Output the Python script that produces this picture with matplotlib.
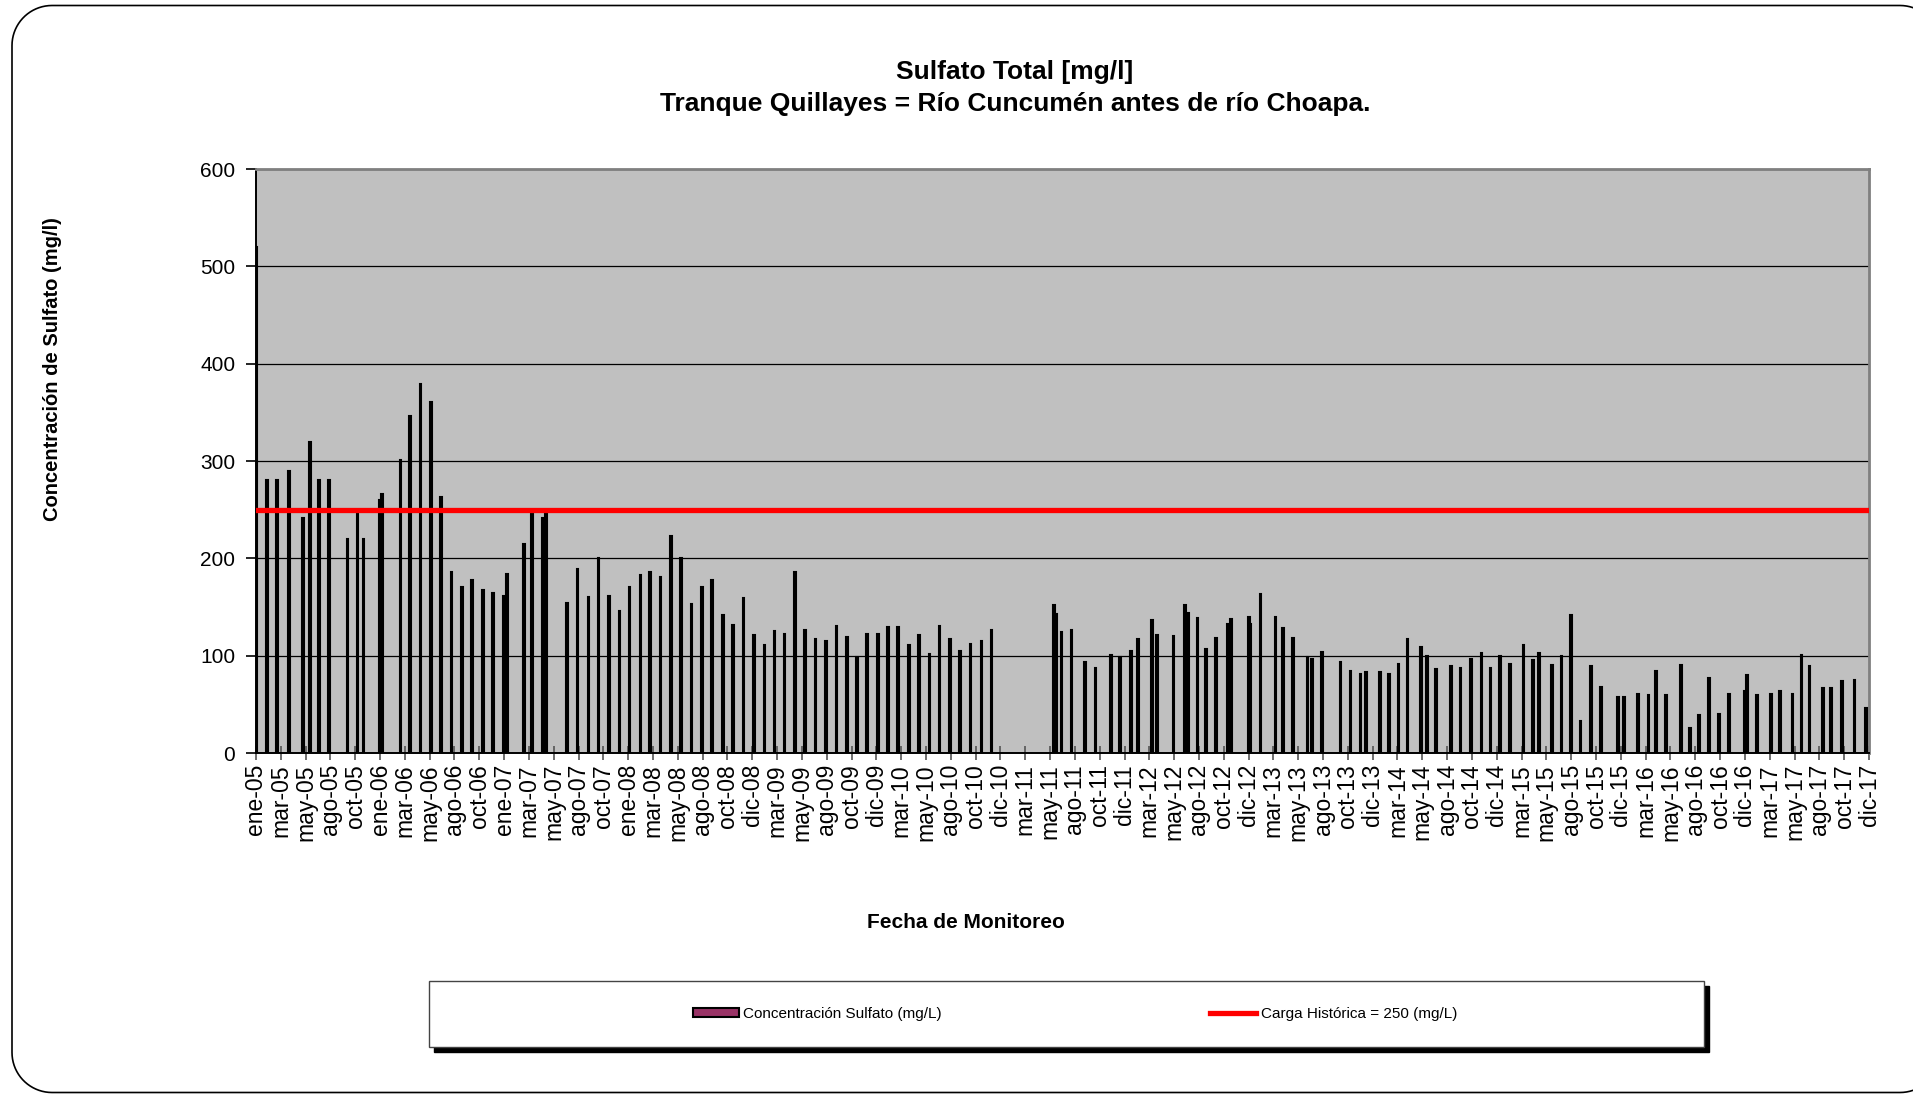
import matplotlib
matplotlib.use("Agg")
import matplotlib.pyplot as plt
import matplotlib.dates as mdates
from matplotlib.patches import Patch, Rectangle
from matplotlib.lines import Line2D
import numpy as np
import pandas as pd

plt.rcParams['font.family'] = ['Liberation Sans', 'DejaVu Sans']

# fechas de monitoreo y concentracion de sulfato (mg/l)
fechas = [
    '2005-01-03', '2005-02-03', '2005-03-03', '2005-04-09', '2005-05-20', '2005-06-09',
    '2005-07-06', '2005-08-03', '2005-09-27', '2005-10-27', '2005-11-13', '2005-12-30',
    '2006-01-07', '2006-03-02', '2006-03-31', '2006-04-30', '2006-05-31', '2006-06-30',
    '2006-07-30', '2006-08-30', '2006-09-29', '2006-10-30', '2006-11-30', '2006-12-30',
    '2007-01-10', '2007-02-28', '2007-03-24', '2007-04-26', '2007-05-04', '2007-07-06',
    '2007-08-05', '2007-09-06', '2007-10-06', '2007-11-06', '2007-12-06', '2008-01-05',
    '2008-02-06', '2008-03-06', '2008-04-05', '2008-05-06', '2008-06-05', '2008-07-05',
    '2008-08-05', '2008-09-04', '2008-10-06', '2008-11-05', '2008-12-05', '2009-01-06',
    '2009-02-05', '2009-03-06', '2009-04-05', '2009-05-05', '2009-06-05', '2009-07-05',
    '2009-08-05', '2009-09-05', '2009-10-05', '2009-11-04', '2009-12-04', '2010-01-05',
    '2010-02-03', '2010-03-05', '2010-04-05', '2010-05-05', '2010-06-05', '2010-07-05',
    '2010-08-04', '2010-09-04', '2010-10-04', '2010-11-05', '2010-12-05',
    '2011-06-06', '2011-06-14', '2011-06-29', '2011-07-28', '2011-09-06', '2011-10-07',
    '2011-11-22', '2011-12-18', '2012-01-19', '2012-02-08', '2012-03-21', '2012-04-04',
    '2012-05-23', '2012-06-26', '2012-07-05', '2012-08-02', '2012-08-26', '2012-09-26',
    '2012-10-29', '2012-11-08', '2012-12-31', '2013-01-05', '2013-02-03', '2013-03-19',
    '2013-04-10', '2013-05-09', '2013-06-21', '2013-07-05', '2013-08-03', '2013-09-26',
    '2013-10-26', '2013-11-24', '2013-12-11', '2014-01-21', '2014-02-15', '2014-03-16',
    '2014-04-11', '2014-05-22', '2014-06-08', '2014-07-05', '2014-08-18', '2014-09-14',
    '2014-10-16', '2014-11-15', '2014-12-12', '2015-01-09', '2015-02-06', '2015-03-19',
    '2015-04-16', '2015-05-03', '2015-06-11', '2015-07-08', '2015-08-05', '2015-09-02',
    '2015-10-03', '2015-11-01', '2015-12-22', '2016-01-09', '2016-02-18', '2016-03-20',
    '2016-04-12', '2016-05-11', '2016-06-23', '2016-07-20', '2016-08-16', '2016-09-15',
    '2016-10-14', '2016-11-13', '2016-12-29', '2017-01-05', '2017-02-03', '2017-03-15',
    '2017-04-11', '2017-05-18', '2017-06-13', '2017-07-07', '2017-08-15', '2017-09-08',
    '2017-10-11', '2017-11-16', '2017-12-20',
]
sulfato = [
    520, 280, 280, 290, 241, 320,
    280, 280, 220, 247, 220, 260,
    266, 301, 346, 379, 361, 263,
    186, 171, 178, 167, 164, 161,
    184, 215, 246, 241, 247, 154,
    189, 160, 200, 161, 146, 171,
    183, 186, 181, 223, 200, 153,
    171, 178, 142, 131, 159, 121,
    111, 125, 122, 186, 126, 117,
    115, 130, 119, 99, 122, 122,
    129, 129, 111, 121, 102, 130,
    117, 105, 112, 115, 126,
    152, 143, 124, 126, 94, 87,
    101, 99, 105, 117, 137, 121,
    120, 152, 144, 139, 107, 118,
    133, 138, 140, 133, 163, 140,
    128, 118, 99, 97, 104, 94,
    84, 81, 83, 83, 81, 91,
    117, 109, 100, 86, 89, 87,
    97, 103, 87, 100, 91, 111,
    96, 103, 90, 100, 142, 33,
    89, 68, 58, 58, 61, 60,
    84, 60, 90, 26, 39, 77,
    40, 61, 64, 80, 60, 61,
    64, 61, 101, 89, 67, 67,
    74, 75, 46,
]
carga_historica = 250

meses = ['ene', 'feb', 'mar', 'abr', 'may', 'jun',
         'jul', 'ago', 'sep', 'oct', 'nov', 'dic']

# eje de fechas: marca cada 73 dias desde ene-05 hasta dic-17
inicio = pd.Timestamp('2005-01-01')
marcas = [inicio + pd.Timedelta(days=73 * k) for k in range(66)]
etiquetas = [f"{meses[m.month - 1]}-{m.strftime('%y')}" for m in marcas]

x = mdates.date2num(pd.to_datetime(fechas))

W, H = 1913, 1094
fig = plt.figure(figsize=(W / 100, H / 100), dpi=100)
ax = fig.add_axes([0.1338, 0.3117, 0.8432, 0.5338])
ax.set_facecolor('#C0C0C0')

# barras angostas: el borde negro domina, como en el original
ax.bar(x, sulfato, width=5, color='#993366', edgecolor='black',
       linewidth=1.5, zorder=3)
ax.axhline(carga_historica, color='#FF0000', linewidth=3.8, zorder=4)

ax.set_xlim(mdates.date2num(marcas[0]), mdates.date2num(marcas[-1]))
ax.set_ylim(0, 600)
ax.set_yticks(np.arange(0, 601, 100))
ax.grid(axis='y', color='black', linewidth=0.9, zorder=1)
ax.set_axisbelow(True)

ax.set_xticks(mdates.date2num(marcas))
ax.set_xticklabels(etiquetas, rotation=90, fontsize=16.5)
ax.tick_params(axis='x', direction='inout', length=10, width=1.2,
               color='#555555', pad=3)
ax.tick_params(axis='y', direction='out', length=7, width=1.2,
               labelsize=15, pad=8)

for lado in ['top', 'right']:
    ax.spines[lado].set_color('#808080')
    ax.spines[lado].set_linewidth(2)
for lado in ['left', 'bottom']:
    ax.spines[lado].set_color('black')
    ax.spines[lado].set_linewidth(1.4)

# titulos
fig.text(0.5306, 0.934, 'Sulfato Total [mg/l]', ha='center', va='center',
         fontsize=19, fontweight='bold')
fig.text(0.5306, 0.905, 'Tranque Quillayes = Río Cuncumén antes de río Choapa.',
         ha='center', va='center', fontsize=19, fontweight='bold')
fig.text(0.0275, 0.663, 'Concentración de Sulfato (mg/l)', rotation=90,
         ha='center', va='center', fontsize=14.5, fontweight='bold')
fig.text(0.505, 0.157, 'Fecha de Monitoreo', ha='center', va='center',
         fontsize=15, fontweight='bold')

# marco redondeado del grafico: trazo abierto, el lado derecho queda fuera
r = 40
izq, der, abajo, arriba = 12, 1940, 1.5, 1088.5
t = np.linspace(0, np.pi / 2, 20)
px = np.concatenate([der - r + r * np.sin(t),            # esquina sup. der.
                     izq + r - r * np.sin(t),            # esquina sup. izq.
                     izq + r - r * np.cos(t),            # esquina inf. izq.
                     der - r + r * np.sin(t)])           # esquina inf. der.
py = np.concatenate([arriba - r + r * np.cos(t),
                     arriba - r + r * np.cos(t),
                     abajo + r - r * np.sin(t),
                     abajo + r - r * np.cos(t)])
sel = np.r_[np.arange(19, -1, -1), np.arange(20, 80)]
fig.add_artist(Line2D(px[sel] / W, py[sel] / H, transform=fig.transFigure,
                      color='black', linewidth=1.2))

# cuadro de leyenda con sombra
fig.patches.append(Rectangle((434 / W, 42 / H), 1275 / W, 66 / H,
                             transform=fig.transFigure,
                             facecolor='black', edgecolor='black'))
fig.patches.append(Rectangle((429 / W, 47 / H), 1275 / W, 66 / H,
                             transform=fig.transFigure,
                             facecolor='white', edgecolor='#444444', linewidth=1))

h1 = Patch(facecolor='#993366', edgecolor='black', linewidth=1.5)
h2 = Line2D([], [], color='#FF0000', linewidth=3.8)
fig.legend([h1], ['Concentración Sulfato (mg/L)'], loc='center left',
           bbox_to_anchor=(0.355, 0.073), frameon=False, fontsize=11,
           handlelength=3.0, handleheight=0.5, handletextpad=0.3)
fig.legend([h2], ['Carga Histórica = 250 (mg/L)'], loc='center left',
           bbox_to_anchor=(0.6255, 0.073), frameon=False, fontsize=11,
           handlelength=3.0, handletextpad=0.3)

fig.savefig('out.png', dpi=100)
